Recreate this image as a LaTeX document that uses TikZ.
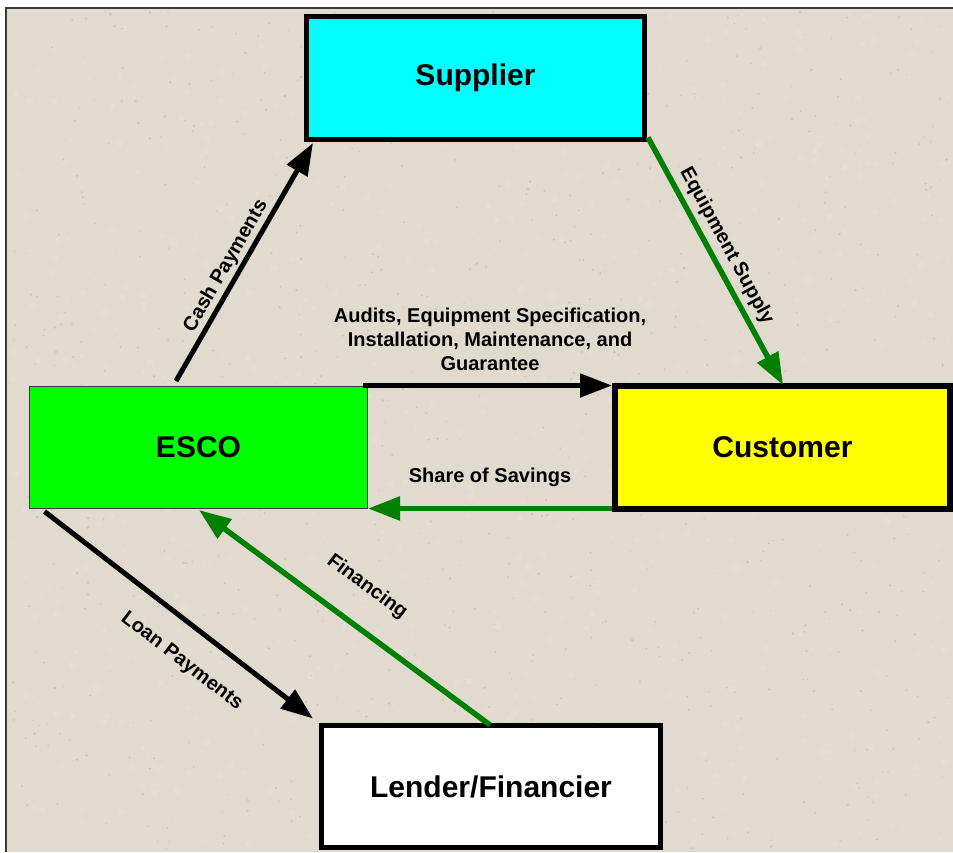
\documentclass[tikz,border=0pt]{standalone}
\usepackage{fontspec}
\setmainfont{Liberation Sans}
\usetikzlibrary{arrows.meta,calc}

\definecolor{paper}{RGB}{225,218,206}
\definecolor{speckdark}{RGB}{165,155,140}
\definecolor{specklight}{RGB}{236,231,222}
\definecolor{arrowgreen}{RGB}{0,128,0}
\definecolor{framegray}{RGB}{60,60,60}
\definecolor{boxcyan}{RGB}{0,255,255}
\definecolor{boxgreen}{RGB}{0,255,0}
\definecolor{boxyellow}{RGB}{255,255,0}

\tikzset{
  party/.style={draw=black, line width=5pt, outer sep=0pt, inner sep=0pt,
    font=\fontsize{30}{36}\selectfont\bfseries},
  blackflow/.style={draw=black, line width=5pt,
    -{Triangle[length=32pt,width=23pt]}},
  greenflow/.style={draw=arrowgreen, line width=5.5pt,
    -{Triangle[length=32pt,width=23pt]}},
  flowlabel/.style={font=\fontsize{20}{24}\selectfont\bfseries,
    inner sep=0pt, align=center},
}

\begin{document}
\begin{tikzpicture}[x=1pt, y=-1pt]
  \useasboundingbox (0,0) rectangle (953,852);

  % paper background with a light speckled grain
  \fill[paper] (6,8) rectangle (953,852);
  \pgfmathsetseed{4242}
  \foreach \i in {1,...,700}{
    \pgfmathsetmacro{\px}{10+940*rnd}
    \pgfmathsetmacro{\py}{12+838*rnd}
    \pgfmathsetmacro{\pr}{1.5+2.5*rnd}
    \fill[specklight, opacity=0.3] (\px,\py) circle[radius=\pr pt];
  }
  \foreach \i in {1,...,900}{
    \pgfmathsetmacro{\px}{10+940*rnd}
    \pgfmathsetmacro{\py}{12+838*rnd}
    \pgfmathsetmacro{\pr}{0.5+0.9*rnd}
    \fill[speckdark, opacity=0.35] (\px,\py) circle[radius=\pr pt];
  }
  \draw[framegray, line width=1.5pt] (6,852) -- (6,8) -- (953,8);

  % the four parties
  \node[party, fill=boxcyan, minimum width=338pt, minimum height=123pt]
    (sup) at (475.5,78) {Supplier};
  \node[party, fill=boxgreen, draw=framegray, line width=1pt,
    minimum width=338pt, minimum height=122pt]
    (esco) at (198.5,447.5) {ESCO};
  \node[party, fill=boxyellow, line width=6pt, minimum width=335pt, minimum height=123pt]
    (cust) at (782.5,447.5) {Customer};
  \node[party, fill=white, minimum width=339pt, minimum height=122pt]
    (lend) at (491,786.5) {Lender/Financier};

  % flows between the parties
  \draw[blackflow] ($(esco.north west)+(146.5,-5.5)$) --
    node[flowlabel, sloped, pos=0.454, yshift=14pt] (cashlbl) {Cash Payments}
    ($(sup.south west)+(6.5,3.5)$);

  \draw[greenflow] ($(sup.south east)+(3.5,-2)$) --
    node[flowlabel, sloped, pos=0.471, yshift=17pt] (equiplbl) {Equipment Supply}
    ($(cust.north west)+(168,-1)$);

  \draw[blackflow] ($(esco.north east)+(-4.5,-1)$) --
    node[flowlabel, xshift=2.5pt, yshift=46pt] (auditlbl)
      {Audits, Equipment Specification,\\Installation, Maintenance, and\\Guarantee}
    ($(cust.north west)+(-3,-0.5)$);

  \draw[greenflow] ($(cust.south west)+(-3,-0.5)$) --
    node[flowlabel, yshift=31pt] (sharelbl) {Share of Savings}
    ($(esco.south east)+(0.5,0)$);

  \draw[greenflow] ($(lend.north west)+(168.5,-0.5)$) --
    node[flowlabel, sloped, pos=0.5, yshift=38pt] (finlbl) {Financing}
    ($(esco.south west)+(169.5,1.5)$);

  \draw[blackflow] ($(esco.south west)+(15,3)$) --
    node[flowlabel, sloped, pos=0.59, yshift=-35pt] (loanlbl) {Loan Payments}
    ($(lend.north west)+(-8.5,-7)$);
\end{tikzpicture}
\end{document}
